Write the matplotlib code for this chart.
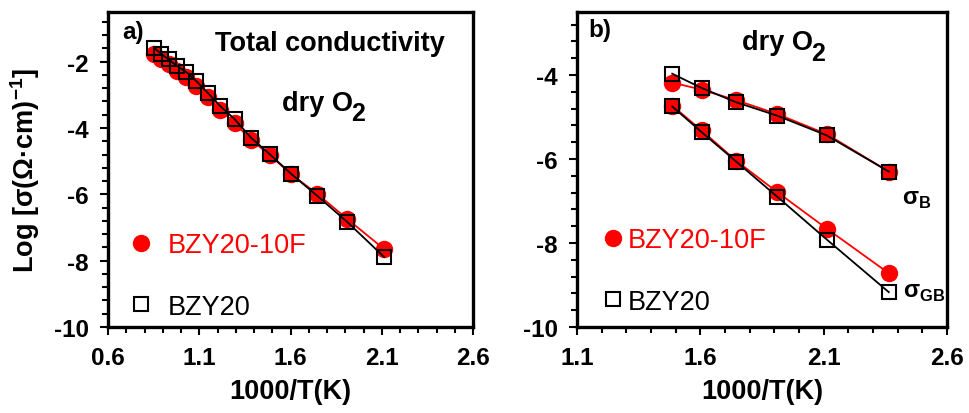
import numpy as np
import matplotlib
matplotlib.use('Agg')
import matplotlib.pyplot as plt
from matplotlib.ticker import MultipleLocator
from matplotlib.lines import Line2D

plt.rcParams['font.family'] = ['Liberation Sans', 'DejaVu Sans']
plt.rcParams['mathtext.fontset'] = 'custom'
plt.rcParams['mathtext.rm'] = 'Liberation Sans'
plt.rcParams['mathtext.bf'] = 'Liberation Sans:bold'
plt.rcParams['axes.unicode_minus'] = False

# a) total conductivity, 900..200 C
x_total = [0.853, 0.890, 0.932, 0.978, 1.028, 1.083, 1.145, 1.215,
           1.293, 1.383, 1.486, 1.605, 1.745, 1.912, 2.113]
bzy20_total = [-1.58, -1.76, -1.93, -2.13, -2.31, -2.58, -2.93, -3.34,
               -3.73, -4.29, -4.79, -5.39, -6.04, -6.84, -7.89]
bzy20f_total = [-1.78, -1.93, -2.08, -2.27, -2.45, -2.72, -3.05, -3.45,
                -3.85, -4.35, -4.82, -5.40, -5.98, -6.75, -7.65]

# b) bulk and grain boundary, 400..150 C
x_bg = [1.486, 1.605, 1.745, 1.912, 2.113, 2.364]
bzy20_b = [-3.97, -4.31, -4.65, -4.97, -5.44, -6.30]
bzy20f_b = [-4.18, -4.35, -4.60, -4.93, -5.41, -6.30]
bzy20_gb = [-4.75, -5.36, -6.06, -6.90, -7.92, -9.17]
bzy20f_gb = [-4.73, -5.32, -6.04, -6.79, -7.66, -8.72]

RED = '#ff0000'
TICK_FS = 17.5
LAB_FS = 19.5


def style_axes(ax, xmin, xmax, ymin, ymax):
    ax.set_xlim(xmin, xmax)
    ax.set_ylim(ymin, ymax)
    ax.xaxis.set_minor_locator(MultipleLocator(0.1))
    ax.yaxis.set_major_locator(MultipleLocator(2))
    ax.yaxis.set_minor_locator(MultipleLocator(0.4))
    ticks = np.arange(xmin, xmax + 0.01, 0.5)
    ax.set_xticks(ticks)
    ax.set_xticklabels(['%.1f' % v for v in ticks])
    for s in ax.spines.values():
        s.set_linewidth(2.4)
    ax.tick_params(which='both', direction='out', top=False, right=False,
                   width=1.5)
    ax.tick_params(which='major', length=6, labelsize=TICK_FS, pad=8)
    ax.tick_params(which='minor', length=4)
    for lab in ax.get_xticklabels() + ax.get_yticklabels():
        lab.set_fontweight('bold')
    ax.set_xlabel('1000/T(K)', fontsize=LAB_FS, fontweight='bold', labelpad=6)


def add_legend(ax, x0, y0, hl, pad):
    handles = [Line2D([], [], ls='none', marker='o', ms=11.5, color=RED),
               Line2D([], [], ls='none', marker='s', ms=10.5, mfc='white',
                      mec='black', mew=1.5)]
    leg = ax.legend(handles, ['BZY20-10F', 'BZY20'], loc='upper left',
                    bbox_to_anchor=(x0, y0), frameon=False, borderpad=0,
                    borderaxespad=0, handlelength=hl, handletextpad=pad,
                    labelspacing=1.31, fontsize=LAB_FS)
    leg.get_texts()[0].set_color(RED)
    leg.get_texts()[1].set_color('black')


def series(ax, x, y20, y20f):
    ax.plot(x, y20f, color=RED, lw=1.3, marker='o', ms=11.5, zorder=2)
    ax.plot(x, y20, color='black', lw=1.3, marker='s', ms=10,
            mfc='none', mec='black', mew=1.5, zorder=3)


def dry_o2(ax, x, y):
    t = ax.text(x, y, 'dry O', transform=ax.transAxes, fontsize=LAB_FS,
                fontweight='bold', va='center')
    ax.annotate('2', xy=(1, 0), xycoords=t, xytext=(-1.5, -7),
                textcoords='offset points', fontsize=18, fontweight='bold',
                va='bottom', ha='left')


fig = plt.figure(figsize=(9.69, 4.14), dpi=100)
ax1 = fig.add_axes([0.1115, 0.2077, 0.3767, 0.761])
ax2 = fig.add_axes([0.5955, 0.2077, 0.3818, 0.761])

series(ax1, x_total, bzy20_total, bzy20f_total)
style_axes(ax1, 0.6, 2.6, -10, -0.5)
ax1.set_ylabel(r'Log [σ(Ω·cm)$^{\mathbf{-1}}$]', fontsize=LAB_FS,
               fontweight='bold', labelpad=8)
ax1.text(0.038, 0.937, 'a)', transform=ax1.transAxes, fontsize=TICK_FS,
         fontweight='bold', va='center')
ax1.text(0.293, 0.902, 'Total conductivity', transform=ax1.transAxes,
         fontsize=LAB_FS, fontweight='bold', va='center')
dry_o2(ax1, 0.477, 0.712)
add_legend(ax1, 0.053, 0.30, 1.0, 0.5)

series(ax2, x_bg, bzy20_b, bzy20f_b)
series(ax2, x_bg, bzy20_gb, bzy20f_gb)
style_axes(ax2, 1.1, 2.6, -10, -2.5)
ax2.text(0.030, 0.943, 'b)', transform=ax2.transAxes, fontsize=TICK_FS,
         fontweight='bold', va='center')
dry_o2(ax2, 0.446, 0.905)
ax2.text(0.878, 0.407, r'σ$_\mathbf{B}$', transform=ax2.transAxes,
         fontsize=17, fontweight='bold', va='center')
ax2.text(0.881, 0.112, r'σ$_\mathbf{GB}$', transform=ax2.transAxes,
         fontsize=17, fontweight='bold', va='center')
add_legend(ax2, 0.0757, 0.317, 0.6, 0.22)

fig.savefig('out.png', dpi=100)
